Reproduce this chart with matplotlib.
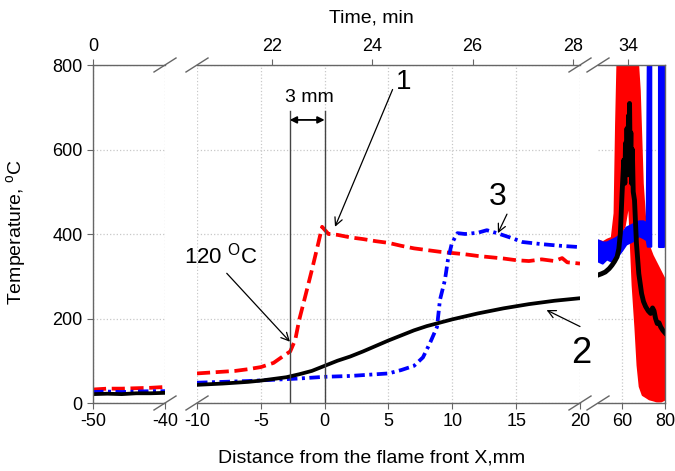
import numpy as np
import matplotlib
matplotlib.use("Agg")
import matplotlib.pyplot as plt

plt.rcParams["font.family"] = ["Liberation Sans", "DejaVu Sans"]
plt.rcParams["mathtext.fontset"] = "custom"
plt.rcParams["mathtext.rm"] = "Liberation Sans"
plt.rcParams["axes.unicode_minus"] = False

# --- thermocouple readings, left segment (-50 .. -40 mm) ---
x_left = [-50, -48, -46, -44, -42, -40]
t1_left = [32, 34, 34, 35, 36, 38]
t3_left = [26, 27, 26, 27, 28, 28]
t2_left = [21, 22, 21, 23, 23, 24]

# --- middle segment (-10 .. 20 mm) ---
x1_mid = [-10, -9, -8, -7, -6, -5, -4, -3.2, -2.7, -2.3, -2, -1.5, -1, -0.5, -0.2,
          0.0, 0.3, 1, 2, 3, 4, 5, 6, 7, 8, 9, 10, 11, 12, 13, 14, 15, 16, 17,
          18, 18.6, 19, 20]
t1_mid = [70, 72, 74, 76, 80, 85, 95, 112, 122, 150, 196, 255, 315, 378, 417,
          410, 400, 398, 392, 388, 383, 379, 372, 366, 362, 358, 355, 352, 348,
          345, 342, 338, 336, 340, 336, 343, 333, 330]

x3_mid = [-10, -8, -6, -4, -2, 0, 2, 4, 5, 6, 7, 7.7, 8.25, 8.8, 9.03, 9.42,
          9.65, 9.96, 10.4, 11, 12, 12.7, 13.5, 14.5, 15.5, 17, 18.5, 20]
t3_mid = [48, 50, 52, 55, 58, 62, 64, 68, 70, 78, 88, 108, 142, 180, 244, 291,
          338, 378, 402, 400, 403, 409, 402, 392, 381, 376, 372, 369]

x2_mid = [-10, -8, -6, -5, -4, -3, -2, -1, 0, 1, 2, 3, 4, 5, 6, 7, 8, 9, 10,
          11, 12, 13, 14, 15, 16, 17, 18, 19, 20]
t2_mid = [43, 46, 50, 53, 57, 61, 68, 76, 88, 100, 110, 122, 135, 148, 160,
          172, 182, 190, 198, 205, 212, 218, 224, 229, 234, 238, 242, 245, 248]

# --- right segment (flame zone), oscillating signals given as min/max envelopes ---
x1_right = [48.9, 51, 53, 55, 56.3, 57, 57.7, 59, 61, 63, 64.7, 66, 67, 68,
            69.4, 71, 72.5, 74, 76, 78, 80]
t1_right_lo = [358, 352, 350, 345, 350, 365, 380, 400, 420, 480, 280, 180, 90,
               40, 20, 15, 10, 8, 5, 5, 10]
t1_right_hi = [385, 382, 388, 392, 450, 660, 820, 820, 820, 820, 820, 820, 820,
               740, 520, 400, 370, 350, 330, 310, 290]

x3_right = [48.9, 51, 53, 55, 57, 58.5, 60, 62, 64, 66, 68, 70, 71.5, 72.0,
            73.6, 74.0, 76.9, 77.1, 79.4]
t3_right_lo = [335, 330, 340, 335, 340, 350, 360, 375, 380, 385, 395, 390, 385,
               370, 370, np.nan, np.nan, 370, 370]
t3_right_hi = [385, 380, 380, 385, 390, 395, 400, 415, 420, 425, 430, 430, 425,
               820, 820, np.nan, np.nan, 820, 820]

x2_right = [48.9, 50.5, 52.2, 54, 55.3, 56.5, 57.7, 58.5, 59.2, 60.0, 60.8, 61.3,
            61.6, 62.0, 62.3, 62.7, 63.0, 63.3, 63.5, 63.8, 64.1, 64.4, 64.8,
            65.2, 65.8, 66.7, 67.8, 69.1, 70.0, 71.0, 72.2, 73.3, 74.2, 74.9,
            75.6, 76.4, 77.2, 78.0, 79.0, 80.0]
t2_right = [303, 306, 310, 318, 326, 335, 346, 365, 401, 496, 575, 520, 615, 560,
            650, 540, 680, 590, 709, 560, 640, 520, 600, 500, 480, 378, 306, 259,
            240, 228, 218, 212, 225, 218, 200, 188, 190, 180, 172, 166]

# time axis (min) mapped onto the middle distance scale
t_ref, x_ref, min_per_mm = 22.0, -4.13, 0.2544

RED, BLUE, BLACK = "#ff0000", "#0000ff", "#000000"
SPINE = "#666666"
dash1 = (0, (3.5, 1.5))
dash3 = (0, (2.8, 1.2, 0.8, 1.2))

fig = plt.figure(figsize=(6.75, 4.71), dpi=100)
W, H = 675, 471
ax_l = fig.add_axes([93 / W, 68 / H, 72 / W, 338 / H])
ax_m = fig.add_axes([197 / W, 68 / H, 383 / W, 338 / H])
ax_r = fig.add_axes([598 / W, 68 / H, 67 / W, 338 / H])

for ax in (ax_l, ax_m, ax_r):
    ax.set_ylim(0, 800)
    ax.set_yticks([0, 200, 400, 600, 800])
    for s in ax.spines.values():
        s.set_color(SPINE)
        s.set_linewidth(1.0)
    ax.tick_params(direction="out", length=4, color=SPINE, labelsize=13,
                   top=False)
    ax.grid(True, linestyle=":", color="#c8c8c8", linewidth=0.9)
    ax.set_axisbelow(True)

ax_l.set_xlim(-50, -40)
ax_l.set_xticks([-50, -40])
ax_l.spines["right"].set_visible(False)

ax_m.set_xlim(-10, 20)
ax_m.set_xticks([-10, -5, 0, 5, 10, 15, 20])
ax_m.spines["left"].set_visible(False)
ax_m.spines["right"].set_visible(False)
ax_m.tick_params(axis="y", left=False, labelleft=False)

ax_r.set_xlim(48.8, 80)
ax_r.set_xticks([60, 80])
ax_r.spines["left"].set_visible(False)
ax_r.tick_params(axis="y", left=False, labelleft=False)

# curves
ax_l.plot(x_left, t1_left, color=RED, lw=2.7, ls=dash1)
ax_l.plot(x_left, t3_left, color=BLUE, lw=2.7, ls=dash3)
ax_l.plot(x_left, t2_left, color=BLACK, lw=2.7)

ax_m.plot(x1_mid, t1_mid, color=RED, lw=2.7, ls=dash1)
ax_m.plot(x3_mid, t3_mid, color=BLUE, lw=2.7, ls=dash3)
ax_m.plot(x2_mid, t2_mid, color=BLACK, lw=2.7)

ax_r.fill_between(x1_right, t1_right_lo, t1_right_hi, color=RED, lw=1.5,
                  edgecolor=RED)
ax_r.fill_between(x3_right, t3_right_lo, t3_right_hi, color=BLUE, lw=1.5,
                  edgecolor=BLUE)
ax_r.plot(x2_right, t2_right, color=BLACK, lw=3.5)

# top time axes
top_l = ax_l.secondary_xaxis("top")
top_l.set_xticks([-50], ["0"])
top_m = ax_m.secondary_xaxis(
    "top",
    functions=(lambda x: t_ref + (x - x_ref) * min_per_mm,
               lambda t: x_ref + (t - t_ref) / min_per_mm))
top_m.set_xticks([22, 24, 26, 28])
top_r = ax_r.secondary_xaxis("top")
top_r.set_xticks([62.8], ["34"])
for sec in (top_l, top_m, top_r):
    sec.tick_params(direction="out", length=4, color=SPINE, labelsize=13)
    sec.spines["top"].set_visible(False)

# break marks on the axis lines
dx, dy = 11 / W, 7 / H
for ax, side in ((ax_l, "right"), (ax_m, "left"), (ax_m, "right"), (ax_r, "left")):
    pos = ax.get_position()
    xc = pos.x1 if side == "right" else pos.x0
    for yc in (pos.y0, pos.y1):
        fig.add_artist(plt.Line2D([xc - dx, xc + dx], [yc - dy, yc + dy],
                                  transform=fig.transFigure, color=SPINE,
                                  lw=1.0))

# 3 mm gap between the 120 C point and the flame front
gap_x = [-2.74, 0.0]
for gx in gap_x:
    ax_m.plot([gx, gx], [0, 690], color="#444444", lw=1.0)
ax_m.annotate("", xy=(gap_x[0], 670), xytext=(gap_x[1], 670),
              arrowprops=dict(arrowstyle="<|-|>", color="black", lw=1.3,
                              mutation_scale=10, shrinkA=0, shrinkB=0))
ax_m.text(-1.23, 723, "3 mm", fontsize=14, ha="center", va="center")

arrow = dict(arrowstyle="->", color="black", lw=0.9, shrinkA=0, shrinkB=0,
             mutation_scale=14)
ax_m.annotate("", xy=(0.81, 417), xytext=(5.32, 742), arrowprops=arrow)
ax_m.text(6.21, 760, "1", fontsize=20, ha="center", va="center")
ax_m.annotate("", xy=(13.57, 402), xytext=(14.28, 447), arrowprops=arrow)
ax_m.text(13.57, 487, "3", fontsize=23, ha="center", va="center")
ax_m.annotate("", xy=(17.38, 220), xytext=(20.0, 181), arrowprops=arrow)
ax_m.text(20.1, 116, "2", fontsize=26, ha="center", va="center")
ax_m.annotate("", xy=(-2.72, 145), xytext=(-7.67, 307), arrowprops=arrow)
ax_m.text(-8.12, 348, "120 $^{\\mathrm{O}}$C", fontsize=16, ha="center",
          va="center")

fig.text(17 / W, 1 - 232 / H, "Temperature, $^{\\mathrm{o}}$C", rotation=90,
         fontsize=14, ha="center", va="center")
fig.text(372 / W, 1 - 458 / H, "Distance from the flame front X,mm",
         fontsize=14, ha="center", va="center")
fig.text(371 / W, 1 - 18 / H, "Time, min", fontsize=14, ha="center",
         va="center")

fig.savefig("out.png", dpi=100)
